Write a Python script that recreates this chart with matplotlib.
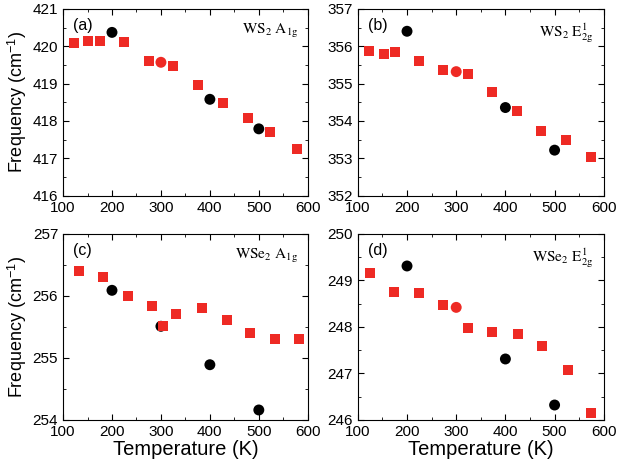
import numpy as np
import matplotlib
matplotlib.use('Agg')
import matplotlib.pyplot as plt
from matplotlib.ticker import MultipleLocator

plt.rcParams['font.family'] = ['Liberation Sans', 'DejaVu Sans']
plt.rcParams['mathtext.fontset'] = 'stix'

# datos
sq_T_a = [123, 152, 176, 225, 275, 325, 375, 427, 478, 523, 578]
sq_a = [420.08, 420.15, 420.14, 420.1, 419.6, 419.47, 418.97, 418.48, 418.08, 417.7, 417.25]
sq_T_b = [123, 153, 175, 224, 273, 324, 373, 424, 473, 523, 573]
sq_b = [355.88, 355.79, 355.84, 355.6, 355.36, 355.27, 354.78, 354.27, 353.72, 353.48, 353.03]
sq_T_c = [133, 181, 232, 282, 304, 331, 383, 434, 483, 533, 582]
sq_c = [256.4, 256.31, 256.0, 255.84, 255.51, 255.7, 255.8, 255.61, 255.4, 255.31, 255.31]
sq_T_d = [124, 173, 224, 274, 323, 373, 426, 475, 528, 574]
sq_d = [249.16, 248.75, 248.72, 248.47, 247.97, 247.88, 247.85, 247.58, 247.07, 246.15]

circ_T = [200, 300, 400, 500]
circ_a = [420.37, 419.57, 418.58, 417.79]
circ_b = [356.4, 355.32, 354.36, 353.22]
circ_c = [256.09, 255.51, 254.89, 254.16]
circ_d = [249.31, 248.42, 247.31, 246.32]
# el punto de 300 K sale en rojo en a, b y d
circ_col_a = ['black', '#ee2a24', 'black', 'black']
circ_col_b = ['black', '#ee2a24', 'black', 'black']
circ_col_c = ['black', 'black', 'black', 'black']
circ_col_d = ['black', '#ee2a24', 'black', 'black']

labels = ['(a)', '(b)', '(c)', '(d)']
modes = [r'$\mathrm{WS_2\ A_{1g}}$', r'$\mathrm{WS_2\ E^1_{2g}}$',
         r'$\mathrm{WSe_2\ A_{1g}}$', r'$\mathrm{WSe_2\ E^1_{2g}}$']
ylims = [(416, 421), (352, 357), (254, 257), (246, 250)]

panels = [(sq_T_a, sq_a, circ_a, circ_col_a),
          (sq_T_b, sq_b, circ_b, circ_col_b),
          (sq_T_c, sq_c, circ_c, circ_col_c),
          (sq_T_d, sq_d, circ_d, circ_col_d)]

pos = [[0.102, 0.579, 0.396, 0.402], [0.579, 0.579, 0.398, 0.402],
       [0.102, 0.097, 0.396, 0.400], [0.579, 0.097, 0.398, 0.400]]

fig = plt.figure(figsize=(6.18, 4.65), dpi=100)
red = '#ee2a24'

for i, (sT, sv, cv, cc) in enumerate(panels):
    ax = fig.add_axes(pos[i])
    ax.scatter(sT, sv, marker='s', s=50, color=red, zorder=3, linewidths=0)
    ax.scatter(circ_T, cv, marker='o', s=62, c=cc, zorder=2 if i == 2 else 4, linewidths=0)
    ax.set_xlim(100, 600)
    ax.set_ylim(*ylims[i])
    ax.xaxis.set_major_locator(MultipleLocator(100))
    ax.xaxis.set_minor_locator(MultipleLocator(50))
    ax.yaxis.set_major_locator(MultipleLocator(1))
    ax.yaxis.set_minor_locator(MultipleLocator(0.5))
    ax.tick_params(which='both', direction='in', top=True, right=True, labelsize=11)
    ax.tick_params(which='major', length=4)
    ax.tick_params(which='minor', length=2.5)
    ax.text(0.04, 0.95, labels[i], transform=ax.transAxes, fontsize=11.5, va='top', ha='left')
    ax.text(0.96, 0.93, modes[i], transform=ax.transAxes, fontsize=11, va='top', ha='right')
    if i in (0, 2):
        ax.set_ylabel(r'Frequency (cm$^{\mathregular{-1}}$)', fontsize=13, labelpad=3)
    if i in (2, 3):
        ax.set_xlabel('Temperature (K)', fontsize=14.5, labelpad=1)

fig.savefig('out.png', dpi=100)
